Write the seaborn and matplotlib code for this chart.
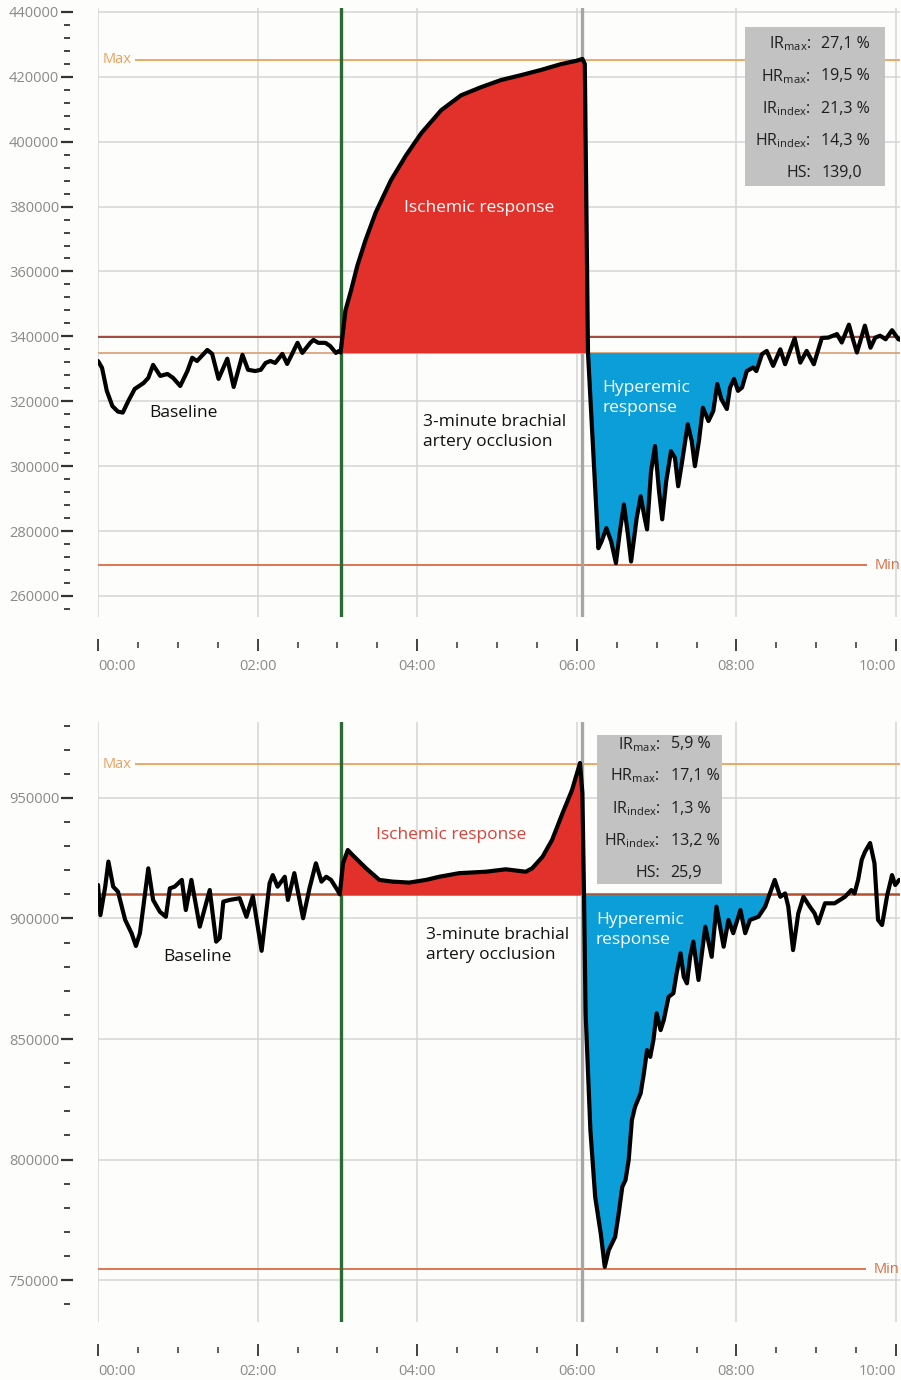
import numpy as np
import matplotlib
matplotlib.use("Agg")
import matplotlib.pyplot as plt
import seaborn as sns
from matplotlib.ticker import MultipleLocator, FuncFormatter
from matplotlib.patches import Rectangle

# --- data: time in minutes, signal in thousands ---
TOP_T = [0.00, 0.05, 0.11, 0.18, 0.25, 0.31, 0.38, 0.46, 0.57, 0.63,
         0.69, 0.78, 0.87, 0.94, 1.03, 1.12, 1.18, 1.24, 1.37, 1.43,
         1.51, 1.62, 1.70, 1.81, 1.88, 1.97, 2.04, 2.10, 2.16, 2.22,
         2.31, 2.37, 2.50, 2.56, 2.66, 2.70, 2.76, 2.85, 2.91, 2.98, 3.02,
         3.04, 3.10, 3.17, 3.25, 3.35, 3.48, 3.67, 3.86, 4.05, 4.30,
         4.55, 4.80, 5.05, 5.30, 5.55, 5.80, 5.99, 6.07, 6.10, 6.14,
         6.27, 6.31, 6.37, 6.43, 6.49, 6.54, 6.59, 6.64, 6.68, 6.75,
         6.80, 6.85, 6.88, 6.93, 6.98, 7.03, 7.07, 7.12, 7.18, 7.23,
         7.27, 7.32, 7.39, 7.44, 7.48, 7.53, 7.58, 7.65, 7.71, 7.76,
         7.81, 7.88, 7.92, 7.97, 8.02, 8.07, 8.13, 8.21, 8.25, 8.32,
         8.38, 8.46, 8.55, 8.61, 8.73, 8.80, 8.88, 8.97, 9.07, 9.15,
         9.26, 9.32, 9.41, 9.46, 9.51, 9.61, 9.68, 9.74, 9.80, 9.87,
         9.95, 10.03, 10.08]
TOP_V = [332.4, 330.3, 323.2, 318.5, 316.8, 316.5, 320.1, 323.8, 325.6, 327.2,
         331.2, 327.8, 328.4, 327.2, 324.7, 329.3, 333.4, 332.4, 335.8, 334.6,
         326.9, 333.1, 324.4, 334.3, 329.7, 329.3, 329.7, 331.8, 332.4, 331.8,
         334.6, 331.5, 338.0, 334.9, 338.0, 338.9, 338.0, 338.0, 337.0, 334.9, 335.5,
         335.0, 347.9, 354.1, 361.8, 369.5, 378.2, 388.1, 395.8, 402.6, 409.7,
         414.3, 416.8, 419.0, 420.5, 422.1, 423.9, 424.9, 425.5, 424.0, 335.0,
         274.7, 276.8, 280.9, 276.8, 270.1, 279.9, 288.2, 279.0, 270.6, 284.0,
         290.7, 284.0, 280.5, 298.4, 306.2, 292.3, 283.6, 295.3, 304.6, 302.5,
         293.8, 301.5, 312.9, 307.7, 300.0, 307.7, 318.0, 313.9, 317.0, 325.3,
         320.7, 317.6, 324.2, 326.9, 323.2, 324.2, 329.3, 330.4, 329.3, 334.5,
         335.5, 330.9, 336.0, 331.4, 339.4, 331.9, 335.5, 331.4, 339.5, 339.6,
         340.7, 338.1, 343.6, 339.1, 335.0, 343.3, 336.5, 339.6, 340.2, 339.1,
         341.9, 339.1, 338.8]

BOT_T = [0.00, 0.03, 0.09, 0.13, 0.19, 0.25, 0.34, 0.42, 0.475, 0.525,
         0.63, 0.69, 0.775, 0.85, 0.90, 0.96, 1.05, 1.10, 1.17, 1.275,
         1.40, 1.48, 1.525, 1.57, 1.65, 1.775, 1.86, 1.94, 2.05, 2.15,
         2.19, 2.25, 2.34, 2.38, 2.46, 2.57, 2.65, 2.73, 2.80, 2.86,
         2.92, 3.00,
         3.03, 3.07, 3.13, 3.19, 3.36, 3.525, 3.69, 3.90, 4.11, 4.275,
         4.525, 4.86, 5.11, 5.36, 5.44, 5.57, 5.69, 5.82, 5.94, 6.04,
         6.07, 6.09,
         6.11, 6.17, 6.23, 6.30, 6.35, 6.40, 6.48, 6.525, 6.57, 6.61,
         6.65, 6.69, 6.73, 6.80, 6.84, 6.88, 6.92, 6.96, 7.00, 7.05,
         7.09, 7.15, 7.21, 7.25, 7.30, 7.34, 7.38, 7.42, 7.46, 7.525,
         7.61, 7.69, 7.75, 7.84, 7.90, 7.96, 8.05, 8.11, 8.17, 8.275,
         8.36, 8.42, 8.48, 8.55, 8.61, 8.65, 8.71, 8.775, 8.84, 8.92,
         8.98, 9.025, 9.11, 9.23, 9.36, 9.44, 9.48, 9.525, 9.57, 9.61,
         9.675, 9.73, 9.775, 9.825, 9.89, 9.95, 9.99, 10.04]
BOT_V = [913.9, 901.4, 913.2, 923.6, 913.2, 911.1, 899.4, 893.9, 888.6, 893.9,
         920.8, 907.7, 902.8, 900.7, 912.5, 913.2, 916.0, 903.5, 916.0, 896.6,
         911.8, 890.4, 891.9, 907.0, 907.7, 908.4, 900.7, 909.3, 886.6, 914.6,
         918.0, 913.2, 917.3, 907.7, 918.8, 900.1, 912.5, 922.9, 915.3, 917.3,
         916.0, 911.8,
         910.0, 922.9, 928.4, 926.3, 920.8, 916.0, 915.3, 914.9, 916.0, 917.3,
         918.8, 919.4, 920.4, 919.4, 920.8, 925.6, 932.6, 943.6, 953.3, 964.5,
         952.0, 910.0,
         860.7, 812.2, 784.5, 769.3, 755.5, 762.4, 767.9, 777.7, 788.7, 791.5,
         799.8, 816.4, 821.9, 827.5, 835.7, 845.4, 842.6, 849.6, 860.7, 853.7,
         857.9, 867.5, 869.0, 877.2, 885.6, 875.8, 873.1, 884.1, 890.4, 874.5,
         896.6, 884.1, 904.9, 888.3, 899.4, 893.9, 903.5, 893.9, 899.4, 900.7,
         904.9, 910.4, 916.0, 909.0, 910.4, 904.9, 886.9, 902.1, 909.0, 904.9,
         902.1, 898.0, 906.3, 906.3, 909.0, 911.8, 910.4, 916.0, 924.3, 927.6,
         931.3, 922.9, 899.4, 897.3, 909.7, 918.0, 913.9, 916.0]

# reference levels (thousands)
TOP_MAX, TOP_REF, TOP_BASE, TOP_MIN = 425.2, 339.8, 335.0, 269.5
BOT_MAX, BOT_BASE, BOT_MIN = 964.0, 910.0, 754.5

# occlusion window (minutes)
OCCL_START, OCCL_END = 3.04, 6.06
TOP_RED_END, TOP_BLUE_END = 6.14, 8.32
BOT_RED_END, BOT_BLUE_END = 6.09, 8.42

X_TICKS = [0, 2, 4, 6, 8, 10]
X_LABELS = ["00:00", "02:00", "04:00", "06:00", "08:00", "10:00"]

STAT_NAMES = [r"IR$_{\mathrm{max}}$:", r"HR$_{\mathrm{max}}$:", r"IR$_{\mathrm{index}}$:",
              r"HR$_{\mathrm{index}}$:", "HS:"]
TOP_STATS = ["27,1 %", "19,5 %", "21,3 %", "14,3 %", "139,0"]
BOT_STATS = ["5,9 %", "17,1 %", "1,3 %", "13,2 %", "25,9"]

BG = "#fdfdfc"
RED = "#e2312a"
BLUE = "#0c9ed8"
GRID = "#d5d5d5"
TICK_LABEL = "#8a8a8a"

sns.set_style("white")
plt.rcParams["font.family"] = ["Open Sans", "DejaVu Sans"]
plt.rcParams["mathtext.fontset"] = "custom"
plt.rcParams["mathtext.rm"] = "Open Sans"
plt.rcParams["mathtext.it"] = "Open Sans:italic"


def setup_axes(ax, ylim, major, minor):
    ax.set_facecolor(BG)
    ax.set_xlim(0, 10.05)
    ax.set_ylim(*ylim)
    ax.set_xticks(X_TICKS)
    ax.set_xticklabels(X_LABELS)
    ax.xaxis.set_minor_locator(MultipleLocator(0.5))
    ax.yaxis.set_major_locator(MultipleLocator(major))
    ax.yaxis.set_minor_locator(MultipleLocator(minor))
    ax.yaxis.set_major_formatter(FuncFormatter(lambda y, p: f"{int(round(y))}"))
    ax.set_axisbelow(True)
    ax.grid(True, which="major", color=GRID, lw=1.1)
    for s in ax.spines.values():
        s.set_visible(False)
    ax.spines["left"].set_position(("outward", 22))
    ax.spines["bottom"].set_position(("outward", 20))
    ax.tick_params(axis="y", which="major", left=True, direction="inout", length=8,
                   width=1.6, color="#333333", labelcolor=TICK_LABEL, labelsize=10.5, pad=2)
    ax.tick_params(axis="y", which="minor", left=True, direction="inout", length=4.5,
                   width=1.4, color="#444444")
    ax.tick_params(axis="x", which="major", bottom=True, direction="inout", length=8,
                   width=1.3, color="#333333", labelcolor=TICK_LABEL, labelsize=10.5, pad=6)
    ax.tick_params(axis="x", which="minor", bottom=True, direction="inout", length=5,
                   width=1.2, color="#444444")
    # first label starts at its tick, last one ends at the edge
    ticks = ax.xaxis.get_major_ticks()
    ticks[0].label1.set_horizontalalignment("left")
    ticks[-1].label1.set_horizontalalignment("right")


def draw_trace(ax, t, v, base, red_end, blue_end):
    ax.axvline(OCCL_START, color="#2c6a34", lw=2.4, zorder=2)
    ax.axvline(OCCL_END, color="#a6a6a6", lw=2.4, zorder=2)
    red_mask = (t >= OCCL_START - 0.005) & (t <= red_end)
    ax.fill_between(t, base, v, where=red_mask & (v >= base), interpolate=True,
                    color=RED, lw=0, zorder=3)
    blue_mask = (t >= red_end) & (t <= blue_end)
    ax.fill_between(t, base, v, where=blue_mask & (v <= base), interpolate=True,
                    color=BLUE, lw=0, zorder=3)
    sns.lineplot(x=t, y=v, ax=ax, color="black", lw=3.0, estimator=None,
                 sort=False, zorder=4)
    ax.set_xlabel("")
    ax.set_ylabel("")


def draw_levels(ax, vmax, vmin, min_end):
    ax.hlines(vmax, 0.46, 10.05, color="#eea05a", lw=1.3, zorder=1)
    ax.text(0.06, vmax, "Max", color="#eea05a", fontsize=10.5, va="center", ha="left", zorder=5)
    ax.hlines(vmin, 0, min_end, color="#dc6a42", lw=1.3, zorder=1)
    ax.text(min_end + 0.09, vmin, "Min", color="#dc6a42", fontsize=10.5, va="center",
            ha="left", zorder=5)


def draw_stats(ax, x0, x1, y0, y1, xsplit, rows, values):
    ax.add_patch(Rectangle((x0, y0), x1 - x0, y1 - y0, transform=ax.transAxes,
                           facecolor="#c2c2c2", edgecolor="none", zorder=6))
    for name, val, y in zip(STAT_NAMES, values, rows):
        ax.text(xsplit, y, name, transform=ax.transAxes, ha="right", va="center",
                fontsize=11.5, color="#1e1e1e", zorder=7)
        ax.text(xsplit + 0.013, y, val, transform=ax.transAxes, ha="left", va="center",
                fontsize=11.5, color="#1e1e1e", zorder=7)


fig = plt.figure(figsize=(9.01, 13.8), dpi=100, facecolor=BG)
ax1 = fig.add_axes([0.1088, 0.5529, 0.8901, 0.4413])
ax2 = fig.add_axes([0.1088, 0.0420, 0.8901, 0.4348])

# ---- top panel ----
top_t = np.array(TOP_T)
top_v = np.array(TOP_V) * 1000
setup_axes(ax1, (253500, 441200), 20000, 4000)
ax1.axhline(TOP_REF * 1000, color="#a6463c", lw=1.4, zorder=1)
ax1.axhline(TOP_BASE * 1000, color="#dca47c", lw=1.3, zorder=1)
draw_levels(ax1, TOP_MAX * 1000, TOP_MIN * 1000, 9.64)
draw_trace(ax1, top_t, top_v, TOP_BASE * 1000, TOP_RED_END, TOP_BLUE_END)
ax1.text(4.77, 379700, "Ischemic response", color="white", fontsize=12.5,
         ha="center", va="center", zorder=5)
ax1.text(1.07, 316400, "Baseline", color="#111111", fontsize=12.5,
         ha="center", va="center", zorder=5)
ax1.text(4.07, 310500, "3-minute brachial\nartery occlusion", color="#111111",
         fontsize=12.5, ha="left", va="center", linespacing=1.3, zorder=5)
ax1.text(6.32, 321000, "Hyperemic\nresponse", color="white", fontsize=12.5,
         ha="left", va="center", linespacing=1.3, zorder=5)
draw_stats(ax1, 0.807, 0.981, 0.708, 0.969, 0.889,
           [0.941, 0.888, 0.834, 0.782, 0.729], TOP_STATS)

# ---- bottom panel ----
bot_t = np.array(BOT_T)
bot_v = np.array(BOT_V) * 1000
setup_axes(ax2, (732600, 981500), 50000, 10000)
ax2.axhline(BOT_BASE * 1000, color="#b4502e", lw=1.8, zorder=1)
draw_levels(ax2, BOT_MAX * 1000, BOT_MIN * 1000, 9.63)
draw_trace(ax2, bot_t, bot_v, BOT_BASE * 1000, BOT_RED_END, BOT_BLUE_END)
ax2.text(4.425, 934600, "Ischemic response", color="#d8433a", fontsize=12.5,
         ha="center", va="center", zorder=5)
ax2.text(1.24, 884000, "Baseline", color="#111111", fontsize=12.5,
         ha="center", va="center", zorder=5)
ax2.text(4.11, 889000, "3-minute brachial\nartery occlusion", color="#111111",
         fontsize=12.5, ha="left", va="center", linespacing=1.3, zorder=5)
ax2.text(6.24, 895200, "Hyperemic\nresponse", color="white", fontsize=12.5,
         ha="left", va="center", linespacing=1.3, zorder=5)
draw_stats(ax2, 0.622, 0.778, 0.730, 0.978, 0.701,
           [0.963, 0.910, 0.855, 0.802, 0.748], BOT_STATS)

fig.savefig("out.png", dpi=100, facecolor=BG)
